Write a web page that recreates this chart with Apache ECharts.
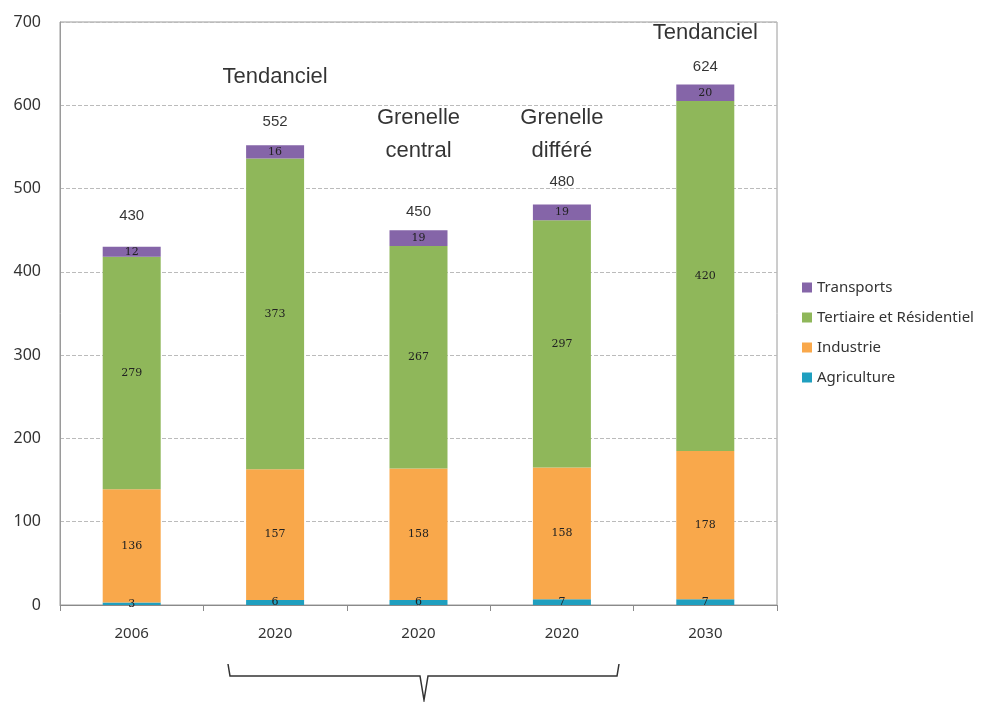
<!DOCTYPE html>
<html>
<head>
<meta charset="utf-8">
<script src="https://cdn.jsdelivr.net/npm/echarts@6/dist/echarts.min.js"></script>
<style>
  html, body { margin: 0; padding: 0; background: #fff; }
  #chart { width: 989px; height: 702px; }
</style>
</head>
<body>
<div id="chart"></div>
<script>
// categories and values
const years = ["2006", "2020", "2020", "2020", "2030"];
const agriculture = [3, 6, 6, 7, 7];
const industrie = [136, 157, 158, 158, 178];
const tertiaire = [279, 373, 267, 297, 420];
const transports = [12, 16, 19, 19, 20];
const totals = [430, 552, 450, 480, 624];
const scenarios = ["", "Tendanciel", "Grenelle\ncentral", "Grenelle\ndifféré", "Tendanciel"];
const yTicks = [0, 100, 200, 300, 400, 500, 600, 700];

const chart = echarts.init(document.getElementById("chart"));

const insideLabel = {
  show: true,
  position: "inside",
  color: "#222",
  fontFamily: "DejaVu Serif",
  fontSize: 11,
};

function stackSeries(name, data, color) {
  return {
    name: name,
    type: "bar",
    stack: "total",
    barWidth: 58,
    data: data,
    itemStyle: { color: color },
    label: insideLabel,
  };
}

// the text boxes were placed by hand in the original, so each one gets its own gap
const totalGaps = [24, 16, 11, 16, 11];
const scenarioOffsets = [0, -32, -43, -18, -16];

const option = {
  animation: false,
  textStyle: { fontFamily: "Liberation Sans" },
  grid: {
    left: 60,
    right: 212,
    top: 22,
    bottom: 97,
    show: true,
    borderColor: "#9a9a9a",
    borderWidth: 1,
  },
  legend: {
    orient: "vertical",
    left: 797,
    top: 275,
    itemWidth: 10,
    itemHeight: 10,
    itemGap: 15,
    icon: "rect",
    data: ["Transports", "Tertiaire et Résidentiel", "Industrie", "Agriculture"],
    textStyle: { fontFamily: "Noto Sans", fontSize: 15, color: "#333" },
  },
  xAxis: {
    type: "category",
    data: years,
    axisLine: { lineStyle: { color: "#8a8a8a" } },
    axisTick: { show: true, length: 6, lineStyle: { color: "#8a8a8a" } },
    axisLabel: { color: "#333", fontFamily: "Noto Sans", fontSize: 15, margin: 21 },
  },
  yAxis: {
    type: "value",
    min: yTicks[0],
    max: yTicks[yTicks.length - 1],
    interval: 100,
    axisLine: { show: true, lineStyle: { color: "#9a9a9a" } },
    axisTick: { show: false },
    axisLabel: { color: "#333", fontFamily: "Noto Sans", fontSize: 16, margin: 19 },
    splitLine: { lineStyle: { color: "#bbbbbb", type: "dashed" } },
  },
  series: [
    stackSeries("Agriculture", agriculture, "#1f9fbf"),
    stackSeries("Industrie", industrie, "#f9a84b"),
    stackSeries("Tertiaire et Résidentiel", tertiaire, "#8fb75a"),
    stackSeries("Transports", transports, "#8565a8"),
    {
      name: "totaux",
      type: "scatter",
      symbolSize: 0,
      silent: true,
      data: totals.map((v, i) => ({
        value: v,
        label: { distance: totalGaps[i] },
      })),
      label: {
        show: true,
        position: "top",
        color: "#000",
        fontSize: 15,
        fontFamily: "Liberation Sans",
      },
    },
    {
      name: "scenarios",
      type: "scatter",
      symbolSize: 0,
      silent: true,
      data: totals.map((v, i) => ({
        value: v,
        label: { offset: [0, scenarioOffsets[i]] },
      })),
      label: {
        show: true,
        position: "top",
        distance: 20,
        color: "#000",
        fontSize: 22,
        lineHeight: 33,
        fontFamily: "Liberation Sans",
        formatter: (p) => scenarios[p.dataIndex],
      },
    },
  ],
  graphic: [
    {
      type: "polyline",
      shape: {
        points: [[228, 664], [230, 676], [420, 676], [424, 700], [428, 676], [617, 676], [619, 664]],
      },
      style: { stroke: "#333", lineWidth: 1.5, fill: null },
    },
  ],
};

chart.setOption(option);
</script>
</body>
</html>
